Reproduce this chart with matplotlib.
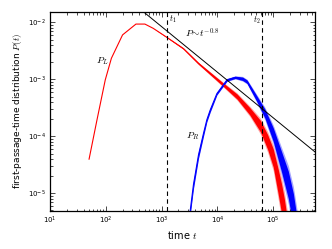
import numpy as np
import matplotlib.pyplot as plt

# P_L (red) -- log10 t, log10 P, plus half-width of the noisy band
red_logt = [1.70, 1.84, 1.99, 2.10, 2.30, 2.54, 2.70, 2.85, 3.09, 3.39, 3.66,
            4.10, 4.35, 4.58, 4.77, 4.90, 5.00, 5.09, 5.15, 5.20, 5.26]
red_logp = [-4.40, -3.72, -3.01, -2.63, -2.22, -2.03, -2.03, -2.105, -2.26, -2.46, -2.72,
            -3.09, -3.30, -3.56, -3.82, -4.10, -4.38, -4.80, -5.10, -5.40, -5.85]
red_noise = [0.0, 0.0, 0.0, 0.0, 0.0, 0.0, 0.0, 0.0, 0.005, 0.01, 0.015,
             0.03, 0.045, 0.065, 0.10, 0.13, 0.16, 0.22, 0.26, 0.30, 0.35]

# P_R (blue)
blue_logt = [3.50, 3.57, 3.66, 3.75, 3.81, 3.87, 3.99, 4.17, 4.32, 4.45, 4.53,
             4.70, 4.85, 5.00, 5.15, 5.27, 5.36, 5.43]
blue_logp = [-5.40, -4.85, -4.33, -3.95, -3.71, -3.54, -3.25, -3.01, -2.965, -2.99, -3.04,
             -3.33, -3.60, -3.97, -4.45, -4.85, -5.30, -5.80]
blue_noise = [0.06, 0.06, 0.05, 0.04, 0.03, 0.03, 0.02, 0.02, 0.02, 0.03, 0.03,
              0.05, 0.08, 0.12, 0.18, 0.24, 0.30, 0.35]

# power law guide P ~ t^-0.8
guide_t = [1e2, 1e6]
guide_exp = -0.8
guide_ref = (10**5.75, 10**-4.275)

t1 = 1260
t2 = 6.4e4

plt.rcParams['mathtext.fontset'] = 'cm'

fig = plt.figure(figsize=(3.32, 2.49), dpi=100)
ax = fig.add_axes([50/332, 38/249, 265/332, 199/249])


def draw(logt, logp, noise, color):
    t = 10**np.array(logt)
    p = 10**np.array(logp)
    s = np.array(noise)
    ax.fill_between(t, p*10**(-1.4*s), p*10**(1.4*s), color=color, alpha=0.35, lw=0)
    ax.fill_between(t, p*10**(-s), p*10**s, color=color, lw=0)
    ax.plot(t, p, color=color, lw=0.8)


draw(red_logt, red_logp, red_noise, 'red')
draw(blue_logt, blue_logp, blue_noise, 'blue')

gt = np.array(guide_t)
ax.plot(gt, guide_ref[1]*(gt/guide_ref[0])**guide_exp, color='black', lw=0.7)

for tv in (t1, t2):
    ax.axvline(tv, color='black', ls='--', lw=0.8, dashes=(4, 3))

ax.set_xscale('log')
ax.set_yscale('log')
ax.set_xlim(10, 5.6e5)
ax.set_ylim(4.9e-6, 1.52e-2)

ax.text(1.35e3, 1.45e-2, r'$t_1$', fontsize=6, va='top', ha='left')
ax.text(6.0e4, 1.35e-2, r'$t_2$', fontsize=6, va='top', ha='right')
ax.text(2.6e3, 6.4e-3, r'$P\!\sim\!t^{-0.8}$', fontsize=7, va='center', ha='left')
ax.text(68, 2.1e-3, r'$P_L$', fontsize=7, va='center', ha='left')
ax.text(2.75e3, 1.0e-4, r'$P_R$', fontsize=7, va='center', ha='left')

ax.set_xlabel(r'time $t$', fontsize=7, labelpad=2)
ax.set_ylabel(r'first-passage-time distribution $P(t)$', fontsize=6.5, labelpad=3)

ax.tick_params(which='both', direction='in', top=True, right=True, labelsize=5, width=0.5)
ax.tick_params(which='major', length=3.5, pad=3)
ax.tick_params(which='minor', length=1.8)
for sp in ax.spines.values():
    sp.set_linewidth(0.9)

fig.savefig('out.png', dpi=100)
